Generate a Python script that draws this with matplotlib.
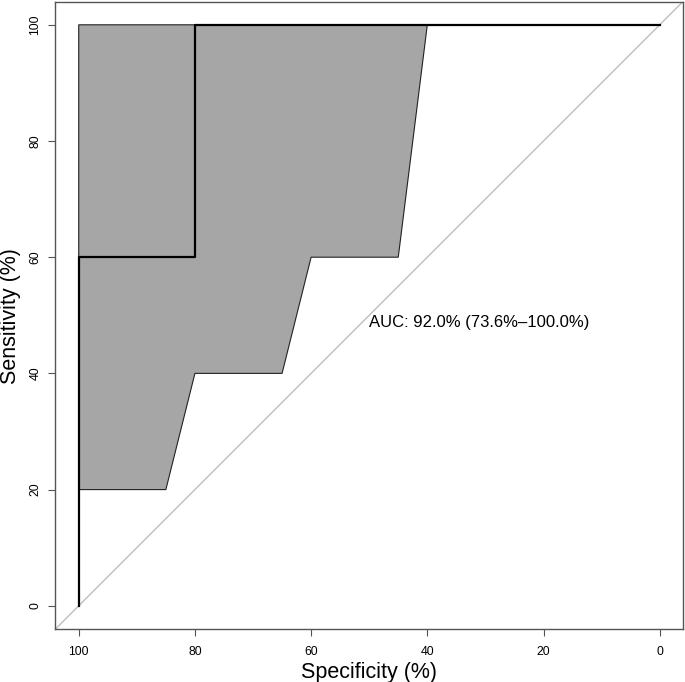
import matplotlib
matplotlib.use("Agg")
import matplotlib.pyplot as plt
from matplotlib.patches import Polygon

plt.rcParams['font.family'] = ['Liberation Sans', 'DejaVu Sans']

# ROC curve (specificity %, sensitivity %)
roc_spec = [100, 100, 80, 80, 0]
roc_sens = [0, 60, 60, 100, 100]

# Sensitivity confidence band
ci_spec = [100, 85, 80, 65, 60, 45, 40, 100]
ci_sens = [20, 20, 40, 40, 60, 60, 100, 100]

auc_text = "AUC: 92.0% (73.6%\u2013100.0%)"
x_ticks = [100, 80, 60, 40, 20, 0]
y_ticks = [0, 20, 40, 60, 80, 100]

fig = plt.figure(figsize=(6.85, 6.82), dpi=100)
ax = fig.add_axes([0.081, 0.0777, 0.916, 0.920])

poly = Polygon(list(zip(ci_spec, ci_sens)), closed=True, facecolor='#a6a6a6',
               edgecolor='#222222', linewidth=0.8, zorder=2)
ax.add_patch(poly)
ax.axline((100, 0), (0, 100), color='#bebebe', linewidth=1.0, zorder=1)
ax.plot(roc_spec, roc_sens, color='black', linewidth=1.6, zorder=3)

ax.text(50, 50, auc_text, ha='left', va='top', fontsize=12)

ax.set_xlim(104, -4)
ax.set_ylim(-4, 104)
ax.set_xticks(x_ticks)
ax.set_yticks(y_ticks)
ax.set_xticklabels([str(t) for t in x_ticks])
ax.set_yticklabels([str(t) for t in y_ticks], rotation=90, va='center')
ax.tick_params(axis='both', length=5, width=0.8, color='#555555', labelsize=8.8)
ax.tick_params(axis='x', pad=7.5)
ax.tick_params(axis='y', pad=5)
for s in ax.spines.values():
    s.set_color('#555555')
    s.set_linewidth(1.0)
ax.set_xlabel('Specificity (%)', fontsize=15.5)
ax.set_ylabel('Sensitivity (%)', fontsize=15.5, va='center')
ax.xaxis.set_label_coords((369 / 685 - 0.081) / 0.916, -0.0526)
ax.yaxis.set_label_coords((11 / 685 - 0.081) / 0.916, ((682 - 316) / 682 - 0.0777) / 0.920)

fig.savefig('out.png', dpi=100)
